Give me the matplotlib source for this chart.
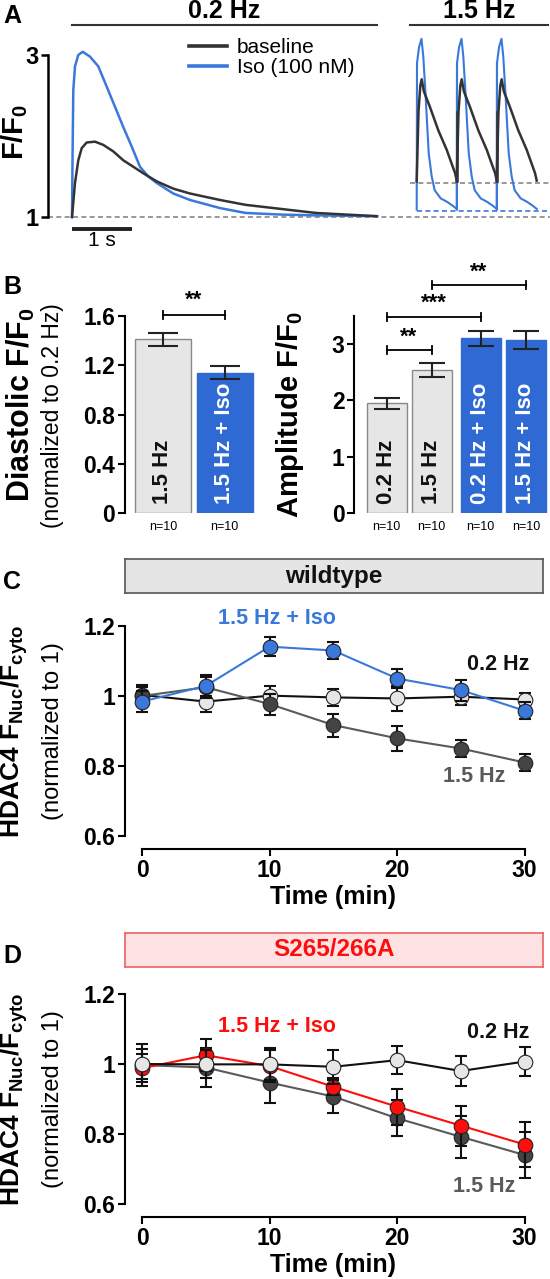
import matplotlib
matplotlib.use('Agg')
import matplotlib.pyplot as plt

plt.rcParams['font.family'] = ['Liberation Sans', 'DejaVu Sans']
plt.rcParams['mathtext.fontset'] = 'custom'
plt.rcParams['mathtext.rm'] = 'Liberation Sans'
plt.rcParams['mathtext.bf'] = 'Liberation Sans:bold'
plt.rcParams['mathtext.it'] = 'Liberation Sans:italic'

# ---- data ------------------------------------------------------------
# A: Ca transients at 0.2 Hz (time in s, F/F0)
t_blue_02 = [0, 0.012, 0.022, 0.05, 0.105, 0.178, 0.30, 0.438, 0.578, 0.717, 0.855,
             0.995, 1.133, 1.272, 1.412, 1.688, 1.967, 2.467, 2.893, 3.478, 4.063, 5.083]
f_blue_02 = [1.0, 1.95, 2.57, 2.86, 3.0, 3.04, 2.98, 2.86, 2.61, 2.36, 2.11,
             1.87, 1.62, 1.50, 1.42, 1.29, 1.21, 1.11, 1.05, 1.03, 1.02, 1.01]
t_black_02 = [0, 0.05, 0.105, 0.162, 0.245, 0.383, 0.522, 0.688, 0.855, 1.022,
              1.188, 1.412, 1.688, 1.967, 2.467, 2.893, 3.478, 4.063, 5.083]
f_black_02 = [1.0, 1.42, 1.70, 1.85, 1.92, 1.93, 1.89, 1.81, 1.70, 1.62,
              1.54, 1.44, 1.35, 1.29, 1.21, 1.15, 1.10, 1.05, 1.01]
# A: one beat at 1.5 Hz (time since stimulus)
beat_onsets = [5.745, 6.412, 7.078]
t_beat_blue = [0, 0.005, 0.04, 0.08, 0.11, 0.14, 0.17, 0.20, 0.25, 0.30, 0.40, 0.50, 0.60, 0.667]
f_beat_blue = [1.09, 2.9, 3.1, 3.2, 2.98, 2.61, 2.2, 1.79, 1.5, 1.33, 1.23, 1.19, 1.14, 1.10]
t_beat_black = [0, 0.03, 0.06, 0.083, 0.12, 0.22, 0.36, 0.5, 0.64, 0.667]
f_beat_black = [1.44, 2.3, 2.62, 2.7, 2.55, 2.36, 2.07, 1.83, 1.54, 1.45]
diast_black_15 = 1.42
diast_blue_15 = 1.074

# B: bar charts
diast_labels = ['1.5 Hz', '1.5 Hz + Iso']
diast_vals = [1.41, 1.14]
diast_err = [0.055, 0.055]
amp_labels = ['0.2 Hz', '1.5 Hz', '0.2 Hz + Iso', '1.5 Hz + Iso']
amp_vals = [1.95, 2.54, 3.10, 3.07]
amp_err = [0.10, 0.12, 0.14, 0.16]
n_labels = ['n=10'] * 4

# C / D: HDAC4 nuclear/cytosolic ratio
time_min = [0, 5, 10, 15, 20, 25, 30]
c_02 = [1.003, 0.984, 1.001, 0.996, 0.993, 0.998, 0.990]
c_02_err = [0.028, 0.03, 0.027, 0.025, 0.035, 0.025, 0.02]
c_15 = [1.0, 1.025, 0.977, 0.917, 0.879, 0.85, 0.81]
c_15_err = [0.025, 0.03, 0.03, 0.033, 0.035, 0.025, 0.025]
c_iso = [0.984, 1.029, 1.141, 1.130, 1.05, 1.017, 0.958]
c_iso_err = [0.03, 0.03, 0.028, 0.025, 0.027, 0.03, 0.025]
d_02 = [1.0, 0.999, 0.999, 0.992, 1.011, 0.980, 1.007]
d_02_err = [0.042, 0.04, 0.046, 0.048, 0.04, 0.043, 0.042]
d_15 = [0.997, 0.99, 0.947, 0.907, 0.845, 0.792, 0.74]
d_15_err = [0.06, 0.057, 0.059, 0.048, 0.052, 0.06, 0.065]
d_iso = [0.988, 1.025, 0.994, 0.935, 0.878, 0.824, 0.77]
d_iso_err = [0.04, 0.046, 0.045, 0.024, 0.052, 0.057, 0.063]

# ---- style -----------------------------------------------------------
BLUE = '#3a78dc'
BAR_BLUE = '#2f6ad4'
LIGHT = '#e6e6e6'
DARK = '#444444'
GREYLINE = '#5a5a5a'
RED = '#ff0d0d'
TICK_FS = 16.5
BAR_FS = 16

W, H = 550, 1279
fig = plt.figure(figsize=(W / 100, H / 100), dpi=100)


def px_axes(l, t, r, b):
    return fig.add_axes([l / W, 1 - b / H, (r - l) / W, (b - t) / H])


def ftext(x, y, s, **kw):
    fig.text(x / W, 1 - y / H, s, **kw)


def bracket(ax, x1, x2, y, dy, label, ty):
    ax.plot([x1, x2], [y, y], color='k', lw=1.3, clip_on=False)
    ax.plot([x1, x1], [y - dy, y + dy], color='k', lw=1.3, clip_on=False)
    ax.plot([x2, x2], [y - dy, y + dy], color='k', lw=1.3, clip_on=False)
    ax.text((x1 + x2) / 2, ty, label, ha='center', va='center', fontsize=16,
            fontweight='bold', clip_on=False)


# ---- panel A ---------------------------------------------------------
T0, SPX, V1, VPX = 72, 60.0, 217, 81.0
tx = lambda px: (px - T0) / SPX
vy = lambda py: 1 + (V1 - py) / VPX

axA = px_axes(48, 10, 550, 240)
axA.set_xlim(tx(48), tx(550))
axA.set_ylim(vy(240), vy(10))
for s in ['top', 'right', 'bottom']:
    axA.spines[s].set_visible(False)
axA.spines['left'].set_bounds(1, 3)
axA.spines['left'].set_linewidth(1.8)
axA.set_xticks([])
axA.set_yticks([1, 3])
axA.set_yticklabels(['1', '3'], fontsize=17, fontweight='bold')
axA.tick_params(axis='y', length=5, width=1.8, pad=2)
axA.patch.set_visible(False)

axA.plot([tx(48), tx(550)], [1, 1], color='#888888', lw=1.2, ls=(0, (3, 2)), zorder=1)
axA.plot([tx(410), tx(550)], [diast_black_15] * 2, color='#888888', lw=1.2,
         ls=(0, (3, 2)), zorder=1)
axA.plot([beat_onsets[0], tx(550)], [diast_blue_15] * 2, color=BLUE, lw=1.2,
         ls=(0, (3, 2)), zorder=1)

axA.plot(t_black_02, f_black_02, color='#333333', lw=1.8, label='baseline', zorder=3)
axA.plot(t_blue_02, f_blue_02, color=BLUE, lw=1.8, label='Iso (100 nM)', zorder=2)
for k, on in enumerate(beat_onsets):
    axA.plot([on + t for t in t_beat_black], f_beat_black, color='#333333', lw=1.8, zorder=3)
    axA.plot([on + t for t in t_beat_blue], f_beat_blue, color=BLUE, lw=1.5, zorder=2)
    if k < len(beat_onsets) - 1:
        axA.plot([on + t_beat_blue[-1]] * 2, [f_beat_blue[-1], f_beat_blue[1]],
                 color=BLUE, lw=1.5, zorder=2)
        axA.plot([on + t_beat_black[-1]] * 2, [f_beat_black[-1], f_beat_black[1]],
                 color='#333333', lw=1.8, zorder=3)

axA.legend(loc='upper left', bbox_to_anchor=(189 / W, 1 - 38 / H),
           bbox_transform=fig.transFigure, frameon=False, fontsize=15,
           handlelength=1.8, handletextpad=0.5, labelspacing=0.05, borderpad=0,
           borderaxespad=0)
for ln in axA.get_legend().get_lines():
    ln.set_linewidth(2.6)

# headers
axA.plot([tx(72), tx(377)], [vy(25)] * 2, color='#333333', lw=1.5, clip_on=False)
axA.text(tx(224), vy(11), '0.2 Hz', ha='center', va='center', fontsize=18,
         fontweight='bold', clip_on=False)
axA.plot([tx(410), tx(548)], [vy(25)] * 2, color='#333333', lw=1.5, clip_on=False)
axA.text(tx(479), vy(11), '1.5 Hz', ha='center', va='center', fontsize=18,
         fontweight='bold', clip_on=False)
# scale bar
axA.plot([0, 1], [vy(229)] * 2, color='#222222', lw=2.8, clip_on=False, solid_capstyle='butt')
axA.text(0.5, vy(241), '1 s', ha='center', va='center', fontsize=15, clip_on=False)

ftext(15, 132, r'F/F$_\mathbf{0}$', rotation=90, ha='center', va='center',
      fontsize=21, fontweight='bold')
ftext(12, 16, 'A', ha='center', va='center', fontsize=18, fontweight='bold')

# ---- panel B ---------------------------------------------------------
ftext(12, 287, 'B', ha='center', va='center', fontsize=18, fontweight='bold')

# left: diastolic
U1 = 61.6
Y1 = 123.1
axB1 = px_axes(124.6, 280, 258, 513)
axB1.set_xlim((124.6 - 163) / U1, (258 - 163) / U1)
axB1.set_ylim(0, (513 - 280) / Y1)
pos1 = [0, 1]
axB1.bar(pos1, diast_vals, width=56 / U1, color=[LIGHT, BAR_BLUE],
         edgecolor=['#8a8a8a', BAR_BLUE], linewidth=1.0, zorder=2)
axB1.errorbar(pos1, diast_vals, yerr=diast_err, fmt='none', ecolor='#222222',
              elinewidth=1.5, capsize=10.5, capthick=1.5, zorder=3)
for p, lab, c in zip(pos1, diast_labels, ['#111111', 'white']):
    axB1.text(p, 0.075, lab, rotation=90, ha='center', va='bottom', fontsize=BAR_FS,
              fontweight='bold', color=c, zorder=4)
    axB1.text(p, -0.115, 'n=10', ha='center', va='center', fontsize=9, clip_on=False)
for s in ['top', 'right', 'bottom']:
    axB1.spines[s].set_visible(False)
axB1.spines['left'].set_bounds(0, 1.6)
axB1.spines['left'].set_linewidth(1.5)
axB1.set_xticks([])
axB1.set_yticks([0, 0.4, 0.8, 1.2, 1.6])
axB1.set_yticklabels(['0', '0.4', '0.8', '1.2', '1.6'], fontsize=TICK_FS, fontweight='bold')
axB1.tick_params(axis='y', length=5, width=1.5, pad=2)
axB1.patch.set_visible(False)
bracket(axB1, 0, 1, (513 - 315) / Y1, 4 / Y1, '**', (513 - 300) / Y1)

ftext(21, 405, r'Diastolic F/F$_\mathbf{0}$', rotation=90, ha='center', va='center',
      fontsize=22, fontweight='bold')
ftext(53, 416, '(normalized to 0.2 Hz)', rotation=90, ha='center', va='center',
      fontsize=16.5)

# right: amplitude
U2 = 45.2
Y2 = 56.3
axB2 = px_axes(354.4, 265, 550, 513)
axB2.set_xlim((354.4 - 386.5) / U2, (550 - 386.5) / U2)
axB2.set_ylim(0, (513 - 265) / Y2)
pos2 = [0, 1, 2.084, 3.086]
axB2.bar(pos2, amp_vals, width=40 / U2, color=[LIGHT, LIGHT, BAR_BLUE, BAR_BLUE],
         edgecolor=['#8a8a8a', '#8a8a8a', BAR_BLUE, BAR_BLUE], linewidth=1.0, zorder=2)
axB2.errorbar(pos2, amp_vals, yerr=amp_err, fmt='none', ecolor='#222222',
              elinewidth=1.5, capsize=9.5, capthick=1.5, zorder=3)
for p, lab, c, nl in zip(pos2, amp_labels, ['#111111', '#111111', 'white', 'white'], n_labels):
    axB2.text(p, 0.16, lab, rotation=90, ha='center', va='bottom', fontsize=BAR_FS,
              fontweight='bold', color=c, zorder=4)
    axB2.text(p, -0.25, nl, ha='center', va='center', fontsize=9, clip_on=False)
for s in ['top', 'right', 'bottom']:
    axB2.spines[s].set_visible(False)
axB2.spines['left'].set_bounds(0, 3.5)
axB2.spines['left'].set_linewidth(1.5)
axB2.set_xticks([])
axB2.set_yticks([0, 1, 2, 3])
axB2.set_yticklabels(['0', '1', '2', '3'], fontsize=TICK_FS, fontweight='bold')
axB2.tick_params(axis='y', length=5, width=1.5, pad=2)
axB2.patch.set_visible(False)
bracket(axB2, pos2[0], pos2[1], (513 - 350) / Y2, 4 / Y2, '**', (513 - 337) / Y2)
bracket(axB2, pos2[0], pos2[2], (513 - 317) / Y2, 4 / Y2, '***', (513 - 303) / Y2)
bracket(axB2, pos2[1], pos2[3], (513 - 285) / Y2, 4 / Y2, '**', (513 - 272) / Y2)

ftext(290, 415, r'Amplitude F/F$_\mathbf{0}$', rotation=90, ha='center', va='center',
      fontsize=21, fontweight='bold')


# ---- panels C / D ----------------------------------------------------
XPX = 382.5 / 30


def time_panel(box_top, ax_top, letter, box_text, box_face, box_edge, box_color,
               series, labels):
    box = px_axes(124.6, box_top, 542.8, box_top + 34)
    box.set_xticks([])
    box.set_yticks([])
    box.set_facecolor(box_face)
    for s in box.spines.values():
        s.set_edgecolor(box_edge)
        s.set_linewidth(1.2)
    box.text(0.5, 0.5, box_text, ha='center', va='center', fontsize=17.5,
             fontweight='bold', color=box_color, transform=box.transAxes)
    ftext(12, box_top + 23, letter, ha='center', va='center', fontsize=18, fontweight='bold')

    ax = px_axes(124.6, ax_top, 532, ax_top + 210)
    ax.set_xlim((124.6 - 142.1) / XPX, (532 - 142.1) / XPX)
    ax.set_ylim(0.6, 1.2)
    for vals, err, face, line, z in series:
        ax.plot(time_min, vals, color=line, lw=1.5, zorder=z, clip_on=False)
        ax.errorbar(time_min, vals, yerr=err, fmt='none', ecolor='#111111',
                    elinewidth=1.5, capsize=4.5, capthick=1.5, zorder=z + 0.1, clip_on=False)
        ax.plot(time_min, vals, 'o', ms=10.5, mfc=face, mec='#222222', mew=0.8,
                zorder=z + 0.2, clip_on=False)
    for s in ['top', 'right']:
        ax.spines[s].set_visible(False)
    ax.spines['left'].set_bounds(0.6, 1.2)
    ax.spines['bottom'].set_bounds(0, 30)
    ax.spines['bottom'].set_position(('outward', 9.5))
    for s in ['left', 'bottom']:
        ax.spines[s].set_linewidth(1.5)
    ax.set_yticks([0.6, 0.8, 1.0, 1.2])
    ax.set_yticklabels(['0.6', '0.8', '1', '1.2'], fontsize=TICK_FS, fontweight='bold')
    ax.set_xticks([0, 10, 20, 30])
    ax.set_xticklabels(['0', '10', '20', '30'], fontsize=TICK_FS, fontweight='bold')
    ax.tick_params(length=5, width=1.5, pad=2)
    ax.patch.set_visible(False)
    for txt, x, y, c in labels:
        ax.text((x - 142.1) / XPX, 1 + (ax_top + 70 - y) / 350.0, txt, ha='center',
                va='center', fontsize=15.5, fontweight='bold', color=c, clip_on=False)
    ftext(333, ax_top + 271, 'Time (min)', ha='center', va='center', fontsize=18,
          fontweight='bold')
    ftext(14, ax_top + 105, r'HDAC4 F$_\mathbf{Nuc}$/F$_\mathbf{cyto}$', rotation=90,
          ha='center', va='center', fontsize=19, fontweight='bold')
    ftext(53, ax_top + 105, '(normalized to 1)', rotation=90, ha='center', va='center',
          fontsize=17)
    return ax


time_panel(559, 626, 'C', 'wildtype', '#e5e5e5', '#555555', '#111111',
           [(c_02, c_02_err, LIGHT, '#111111', 2),
            (c_15, c_15_err, DARK, GREYLINE, 3),
            (c_iso, c_iso_err, BLUE, BLUE, 4)],
           [('1.5 Hz + Iso', 277, 618, BLUE), ('0.2 Hz', 498, 664, '#111111'),
            ('1.5 Hz', 474, 777, GREYLINE)])

time_panel(933, 994, 'D', 'S265/266A', '#fde3e3', '#f06060', RED,
           [(d_15, d_15_err, DARK, GREYLINE, 2),
            (d_iso, d_iso_err, RED, RED, 3),
            (d_02, d_02_err, LIGHT, '#111111', 4)],
           [('1.5 Hz + Iso', 277, 1027, RED), ('0.2 Hz', 498, 1032, '#111111'),
            ('1.5 Hz', 484, 1186, GREYLINE)])

fig.savefig('out.png', dpi=100)
